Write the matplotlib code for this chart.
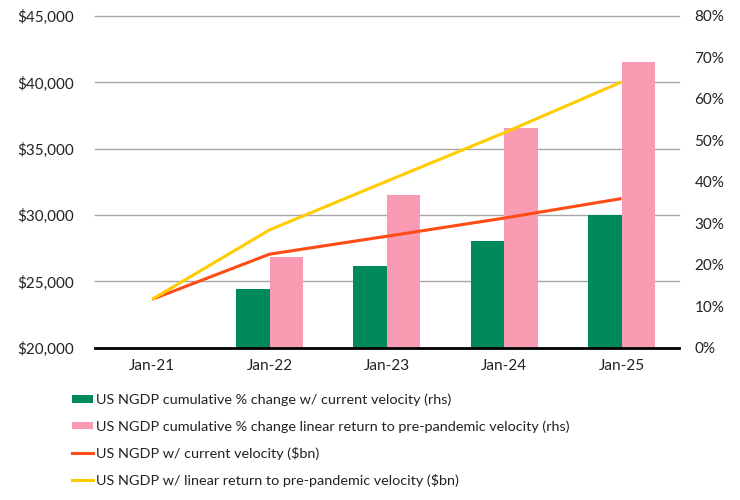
import matplotlib
matplotlib.use("Agg")
import matplotlib.pyplot as plt
import matplotlib.transforms as mtransforms
from matplotlib.patches import Patch
from matplotlib.lines import Line2D
import numpy as np

plt.rcParams['font.family'] = ['Lato', 'DejaVu Sans']

categories = ["Jan-21", "Jan-22", "Jan-23", "Jan-24", "Jan-25"]
green_pct = [None, 14.2, 19.7, 25.8, 32.0]
pink_pct = [None, 21.9, 36.9, 53.0, 68.8]
orange_bn = [23650, 27050, 28400, 29770, 31240]
yellow_bn = [23650, 28880, 32550, 36200, 40030]

left_ticks = [20000, 25000, 30000, 35000, 40000, 45000]
right_ticks = [0, 10, 20, 30, 40, 50, 60, 70, 80]

labels = [
    "US NGDP cumulative % change w/ current velocity (rhs)",
    "US NGDP cumulative % change linear return to pre-pandemic velocity (rhs)",
    "US NGDP w/ current velocity ($bn)",
    "US NGDP w/ linear return to pre-pandemic velocity ($bn)",
]

GREEN = "#008A5C"
PINK = "#FA9BB4"
ORANGE = "#FF4B14"
YELLOW = "#FFCC00"
TXT = "#222222"

fig = plt.figure(figsize=(7.4, 5.0), dpi=100)
ax = fig.add_axes([0.128, 0.3046, 0.7896, 0.6634])
ax2 = ax.twinx()
ax.set_zorder(2)
ax.patch.set_visible(False)
ax2.set_zorder(1)

x = np.arange(len(categories))
w = 0.285
gx = [xi for xi, v in zip(x, green_pct) if v is not None]
gv = [v for v in green_pct if v is not None]
px = [xi for xi, v in zip(x, pink_pct) if v is not None]
pv = [v for v in pink_pct if v is not None]
ax2.bar(np.array(gx) - w / 2, gv, width=w, color=GREEN, zorder=3)
ax2.bar(np.array(px) + w / 2, pv, width=w, color=PINK, zorder=3)

# gridlines at left-axis ticks, drawn behind the bars
blend = mtransforms.blended_transform_factory(ax2.transAxes, ax.transData)
for t in left_ticks[1:]:
    ax2.plot([0, 1], [t, t], transform=blend, color="#A6A6A6", lw=1.0, zorder=1, clip_on=False)

ax.plot(x, orange_bn, color=ORANGE, lw=2.2, zorder=4, solid_capstyle='butt')
ax.plot(x, yellow_bn, color=YELLOW, lw=2.2, zorder=4, solid_capstyle='butt')

ax.set_xlim(-0.49, 4.49)
ax.set_ylim(20000, 45000)
ax2.set_ylim(0, 80)
ax.set_yticks(left_ticks)
ax.set_yticklabels([f"${t:,}" for t in left_ticks])
ax2.set_yticks(right_ticks)
ax2.set_yticklabels([f"{t}%" for t in right_ticks])
ax.set_xticks(x)
ax.set_xticklabels(categories)

for a in (ax, ax2):
    for s in ("top", "left", "right", "bottom"):
        a.spines[s].set_visible(False)
ax.spines["bottom"].set_visible(True)
ax.spines["bottom"].set_color("black")
ax.spines["bottom"].set_linewidth(2.0)

ax.tick_params(axis='y', length=0, pad=15, labelsize=11, labelcolor=TXT)
ax2.tick_params(axis='y', length=0, pad=11, labelsize=11, labelcolor=TXT)
ax.tick_params(axis='x', length=0, pad=8, labelsize=11, labelcolor=TXT)
ax2.tick_params(axis='x', length=0, labelbottom=False)

handles = [
    Patch(facecolor=GREEN, edgecolor='none'),
    Patch(facecolor=PINK, edgecolor='none'),
    Line2D([0], [0], color=ORANGE, lw=2.2),
    Line2D([0], [0], color=YELLOW, lw=2.2),
]
leg = fig.legend(handles, labels, loc="upper left", bbox_to_anchor=(0.097, 0.213),
                 frameon=False, fontsize=10.4, handlelength=1.45, handleheight=0.45,
                 handletextpad=0.2, labelspacing=0.97, borderaxespad=0, borderpad=0)
for t in leg.get_texts():
    t.set_color(TXT)

fig.savefig("out.png", dpi=100)
